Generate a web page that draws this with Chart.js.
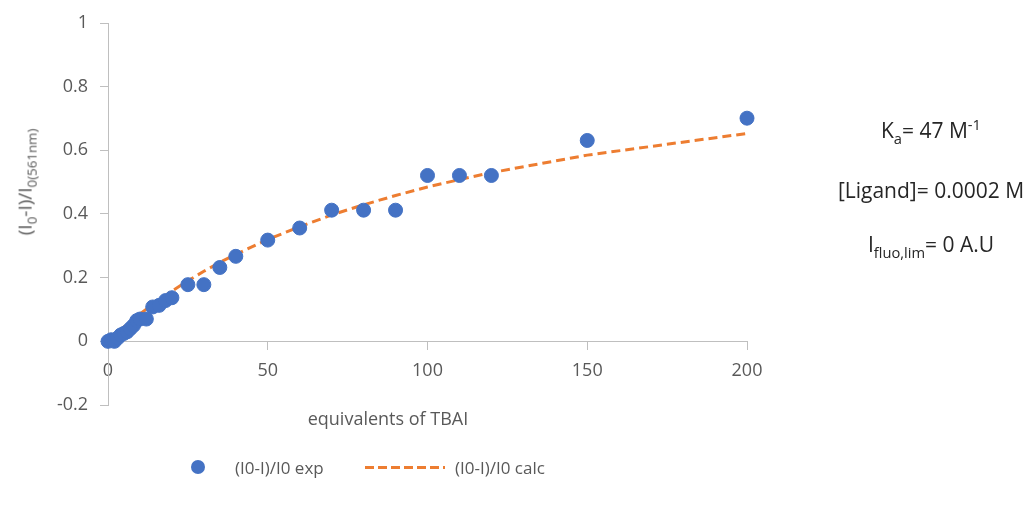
<!DOCTYPE html>
<html>
<head>
<meta charset="utf-8">
<script src="https://cdn.jsdelivr.net/npm/chart.js@4"></script>
<style>
  body { margin: 0; background: #fff; font-family: "Open Sans", sans-serif; }
  #wrap { position: relative; width: 1036px; height: 506px; }
  .lbl { position: absolute; white-space: nowrap; color: #595959; }
  #ytitle { left: 26px; top: 182px; font-size: 19px; transform: translate(-50%, -50%) rotate(-90deg); }
  #xtitle { left: 388px; top: 418px; font-size: 18px; transform: translate(-50%, -50%); }
  .note { position: absolute; left: 931px; transform: translate(-50%, -50%); font-size: 21px; color: #262626; white-space: nowrap; }
  .legend { position: absolute; top: 467px; font-size: 17px; color: #595959; transform: translateY(-50%); white-space: nowrap; }
  #dot { position: absolute; left: 191px; top: 460px; width: 14px; height: 14px; border-radius: 50%; background: #4472C4; }
  #dash { position: absolute; left: 365px; top: 466px; width: 80px; height: 3px;
          background: repeating-linear-gradient(to right, #ED7D31 0 9px, transparent 9px 13px); }
  sub, sup { font-size: 70%; }
</style>
</head>
<body>
<div id="wrap">
  <canvas id="grafico"></canvas>
  <div class="lbl" id="ytitle">(I<sub>0</sub>-I)/I<sub>0(561nm)</sub></div>
  <div class="lbl" id="xtitle">equivalents of TBAI</div>
  <div class="note" style="top:131px">K<sub>a</sub>= 47 M<sup>-1</sup></div>
  <div class="note" style="top:190px">[Ligand]= 0.0002 M</div>
  <div class="note" style="top:246px">I<sub>fluo,lim</sub>= 0 A.U</div>
  <div id="dot"></div>
  <div class="legend" style="left:235px">(I0-I)/I0 exp</div>
  <div id="dash"></div>
  <div class="legend" style="left:455px">(I0-I)/I0 calc</div>
</div>
<script>
// valores
const eqExp = [0, 1, 2, 3, 4, 5, 6, 7, 8, 9, 10, 12, 14, 16, 18, 20, 25, 30, 35, 40, 50, 60, 70, 80, 90, 100, 110, 120, 150, 200];
const ratioExp = [0, 0.005, 0, 0.01, 0.02, 0.025, 0.03, 0.04, 0.05, 0.065, 0.07, 0.07, 0.108, 0.113, 0.128, 0.137, 0.178, 0.178, 0.232, 0.267, 0.318, 0.356, 0.412, 0.412, 0.412, 0.521, 0.521, 0.521, 0.631, 0.701];
const eqCalc = [0, 5, 10, 15, 20, 25, 30, 35, 40, 50, 60, 70, 80, 90, 100, 110, 120, 150, 200];
const ratioCalc = [0, 0.045, 0.086, 0.124, 0.158, 0.19, 0.22, 0.248, 0.273, 0.32, 0.36, 0.397, 0.429, 0.458, 0.485, 0.508, 0.53, 0.585, 0.653];
const xTicks = [0, 50, 100, 150, 200];
const yTicks = [-0.2, 0, 0.2, 0.4, 0.6, 0.8, 1];

const azul = "#4472C4";
const laranja = "#ED7D31";
const cinza = "#BFBFBF";
const texto = "#595959";

function pares(xs, ys) {
  return xs.map((x, i) => ({ x: x, y: ys[i] }));
}

let grafico = new Chart(document.getElementById("grafico"), {
  type: "scatter",
  data: {
    datasets: [
      {
        label: "(I0-I)/I0 exp",
        data: pares(eqExp, ratioExp),
        backgroundColor: azul,
        borderColor: azul,
        pointRadius: 7,
        pointHoverRadius: 7,
        clip: false,
      },
      {
        label: "(I0-I)/I0 calc",
        data: pares(eqCalc, ratioCalc),
        showLine: true,
        borderColor: laranja,
        borderWidth: 3,
        borderDash: [9, 5],
        pointRadius: 0,
        tension: 0,
        clip: false,
      },
    ],
  },
  options: {
    responsive: true,
    maintainAspectRatio: false,
    animation: false,
    layout: { padding: { left: 0, top: 23, right: 289, bottom: 101 } },
    plugins: {
      legend: { display: false },
      tooltip: { enabled: false },
    },
    scales: {
      x: {
        type: "linear",
        position: { y: 0 },
        min: 0,
        max: 200,
        afterBuildTicks: (s) => { s.ticks = xTicks.map((v) => ({ value: v })); },
        grid: { drawOnChartArea: false, color: cinza, tickLength: 8 },
        border: { color: cinza, width: 1 },
        ticks: { color: texto, padding: 11, font: { family: "Open Sans", size: 18 }, callback: (v) => String(v) },
      },
      y: {
        type: "linear",
        min: -0.2,
        max: 1,
        afterBuildTicks: (s) => { s.ticks = yTicks.map((v) => ({ value: v })); },
        afterFit: (s) => { s.width = 108; },
        grid: { drawOnChartArea: false, color: cinza, tickLength: 8 },
        border: { color: cinza, width: 1 },
        ticks: { color: texto, padding: 12, font: { family: "Open Sans", size: 18 }, callback: (v) => String(v) },
      },
    },
  },
});
</script>
</body>
</html>
